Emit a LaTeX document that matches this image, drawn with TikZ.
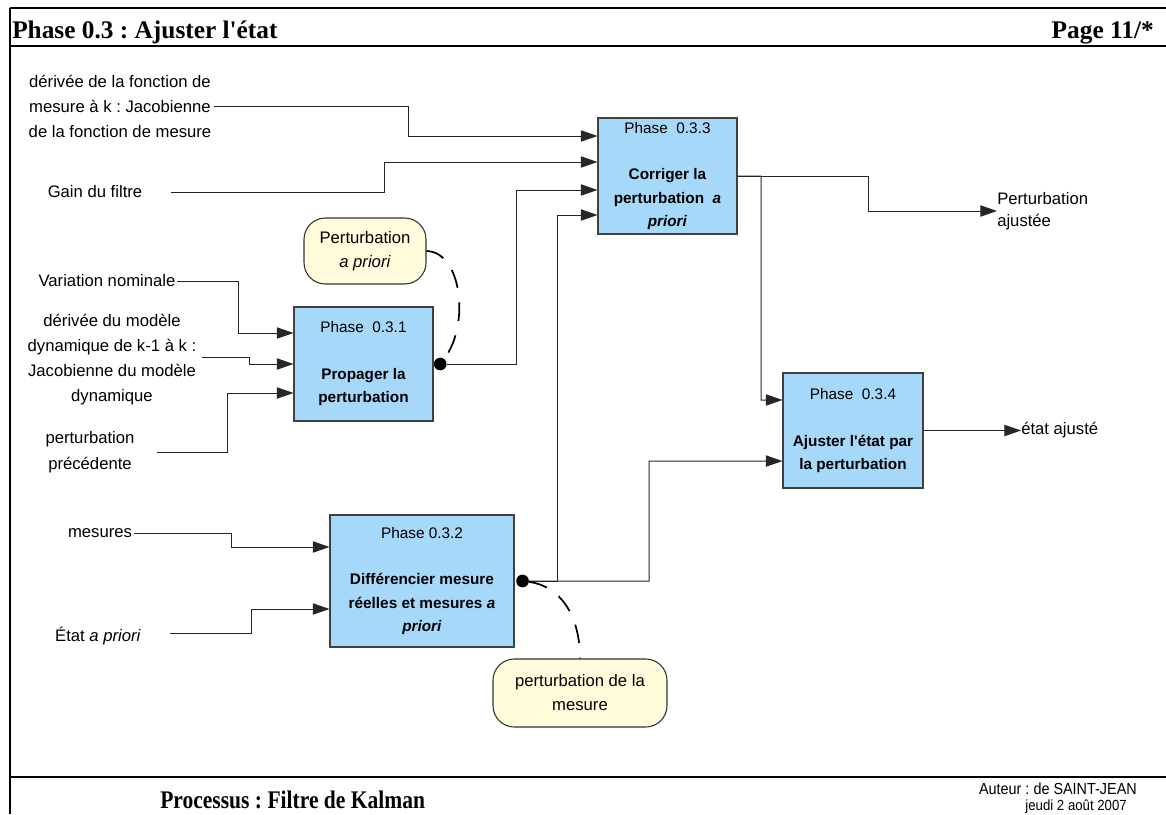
\documentclass[tikz,border=0pt]{standalone}
\usepackage{fontspec}
\setmainfont{Liberation Serif}[Ligatures=TeXOff]
\setsansfont{Liberation Sans}[Ligatures=TeXOff]
\newfontfamily\condserif{Liberation Serif}[FakeStretch=0.85,Ligatures=TeXOff]
\newfontfamily\condsans{Liberation Sans}[FakeStretch=0.9,Ligatures=TeXOff]
\usetikzlibrary{arrows.meta}
\definecolor{boxblue}{HTML}{A6D8FA}
\definecolor{bubyellow}{HTML}{FFFBDB}
\frenchspacing
\begin{document}
\begin{tikzpicture}[x=0.75pt,y=-0.75pt,
  box/.style={draw=black!75, fill=boxblue, line width=0.8pt, inner sep=0pt, align=center,
    font=\sffamily\fontsize{11.5}{17.5}\selectfont},
  bubble/.style={draw=black!80, fill=bubyellow, rounded corners=16pt, line width=0.8pt,
    inner sep=0pt, align=center, font=\sffamily\fontsize{12.5}{18}\selectfont},
  lab/.style={inner sep=0pt, align=center, font=\sffamily\fontsize{12.5}{18.75}\selectfont},
  conn/.style={draw=black!85, line width=0.75pt},
  arr/.style={conn, -{Triangle[length=12.5pt,width=8.5pt]}},
  dot/.style={circle, fill=black, inner sep=0pt, minimum size=9.5pt},
  dashconn/.style={draw=black, line width=1.3pt, dash pattern=on 14pt off 11pt},
  frame/.style={line width=1.5pt}
]
\useasboundingbox (0,0) rectangle (1166,814);

% frame
\draw[frame] (10,8) -- (1166,8);
\draw[frame] (10,46) -- (1166,46);
\draw[frame] (10,777) -- (1166,777);
\draw[frame] (10,8) -- (10,814);

% header / footer
\node[anchor=base west, inner sep=0pt, font=\bfseries\fontsize{19}{22}\selectfont] (title) at (12,38) {Phase 0.3 : Ajuster l'état};
\node[anchor=base east, inner sep=0pt, font=\bfseries\fontsize{19}{22}\selectfont] (page) at (1154,38) {Page 11/*};
\node[anchor=base west, inner sep=0pt, font=\condserif\bfseries\fontsize{19}{22}\selectfont] (proc) at (160,808) {Processus : Filtre de Kalman};
\node[anchor=base east, inner sep=0pt, font=\condsans\fontsize{12}{13}\selectfont] (aut) at (1137,794) {Auteur : de SAINT-JEAN};
\node[anchor=base east, inner sep=0pt, font=\condsans\fontsize{11}{12}\selectfont] (date) at (1127,810) {jeudi 2 août 2007};

% boxes
\node[box, minimum width=104.25pt, minimum height=87pt] (P033) at (667.5,176)
  {Phase\ \ 0.3.3\\[17.5pt]\textbf{Corriger la}\\\textbf{perturbation\ \ \textit{a}}\\\textbf{\textit{priori}}};
\node[box, minimum width=104.25pt, minimum height=85.5pt] (P031) at (363.5,364)
  {Phase\ \ 0.3.1\\[17.5pt]\textbf{Propager la}\\\textbf{perturbation}};
\node[box, minimum width=138pt, minimum height=99pt] (P032) at (422,581)
  {Phase 0.3.2\\[17.5pt]\textbf{Différencier mesure}\\\textbf{réelles et mesures \textit{a}}\\\textbf{\textit{priori}}};
\node[box, minimum width=105pt, minimum height=86.25pt] (P034) at (853,430.5)
  {Phase\ \ 0.3.4\\[17.5pt]\textbf{Ajuster l'état par}\\\textbf{la perturbation}};

% bubbles
\node[bubble, minimum width=91.5pt, minimum height=49.5pt] (B1) at (365,251) {Perturbation\\\textit{a priori}};
\node[bubble, minimum width=130.5pt, minimum height=51pt] (B2) at (580,693) {perturbation de la\\mesure};

% dots
\node[dot] (d1) at ([xshift=5pt]P031.east) {};
\node[dot] (d2) at ([xshift=6pt]P032.east) {};

% labels
\node[lab] (l1) at (120,106) {dérivée de la fonction de\\mesure à k : Jacobienne\\de la fonction de mesure};
\node[lab] (gain) at (95,192) {Gain du filtre};
\node[lab] (varnom) at (107,281) {Variation nominale};
\node[lab] (derdyn) at (112,360) {dérivée du modèle\\dynamique de k-1 à k :\\Jacobienne du modèle\\dynamique};
\node[lab, font=\sffamily\fontsize{12.5}{19.5}\selectfont] (perprec) at (90,452) {perturbation\\précédente};
\node[lab] (mes) at (100,533) {mesures};
\node[lab] (etat) at (98,636) {État \textit{a priori}};
\node[lab, anchor=west, align=left, font=\sffamily\fontsize{12.5}{16.5}\selectfont] (out1) at (997,211) {Perturbation\\ajustée};
\node[lab, anchor=west] (out2) at (1021,430.5) {état ajusté};

% connectors
\draw[arr] ([xshift=2pt]l1.east) -| (408,136) -- ([yshift=30pt]P033.west);
\draw[arr] ([xshift=21pt]gain.east) -| (384,162) -- ([yshift=10.5pt]P033.west);
\draw[arr] (d1.east) -| (516,190) -- ([yshift=-10.5pt]P033.west);
\draw[arr] (d2.east) -| (557,215) -- ([yshift=-29.25pt]P033.west);
\draw[arr] (d2.east) -| (649,461) -- ([yshift=-22.9pt]P034.west);
\draw[arr] (P033.east) -| (761,400) -- ([yshift=22.9pt]P034.west);
\draw[arr] (P033.east) -| (868,211) -- (out1.west);
\draw[arr] (P034.east) -- (out2.west);
\draw[arr] ([xshift=1pt]varnom.east) -| (238,333) -- ([yshift=23.25pt]P031.west);
\draw[arr] ([xshift=4pt,yshift=2pt]derdyn.east) -| (249,364) -- (P031.west);
\draw[arr] ([xshift=17pt]perprec.east) -| (227,393) -- ([yshift=-21.75pt]P031.west);
\draw[arr] ([xshift=1pt]mes.east) -| (231,547) -- ([yshift=25.5pt]P032.west);
\draw[arr] ([xshift=22pt,yshift=2pt]etat.east) -| (251,609) -- ([yshift=-21pt]P032.west);

% dashed annotation links
\draw[dashconn] (B1.east) .. controls (462,252) and (470,325) .. (d1);
\draw[dashconn] (d2) .. controls (560,586) and (580,615) .. (B2.north);
\end{tikzpicture}
\end{document}
